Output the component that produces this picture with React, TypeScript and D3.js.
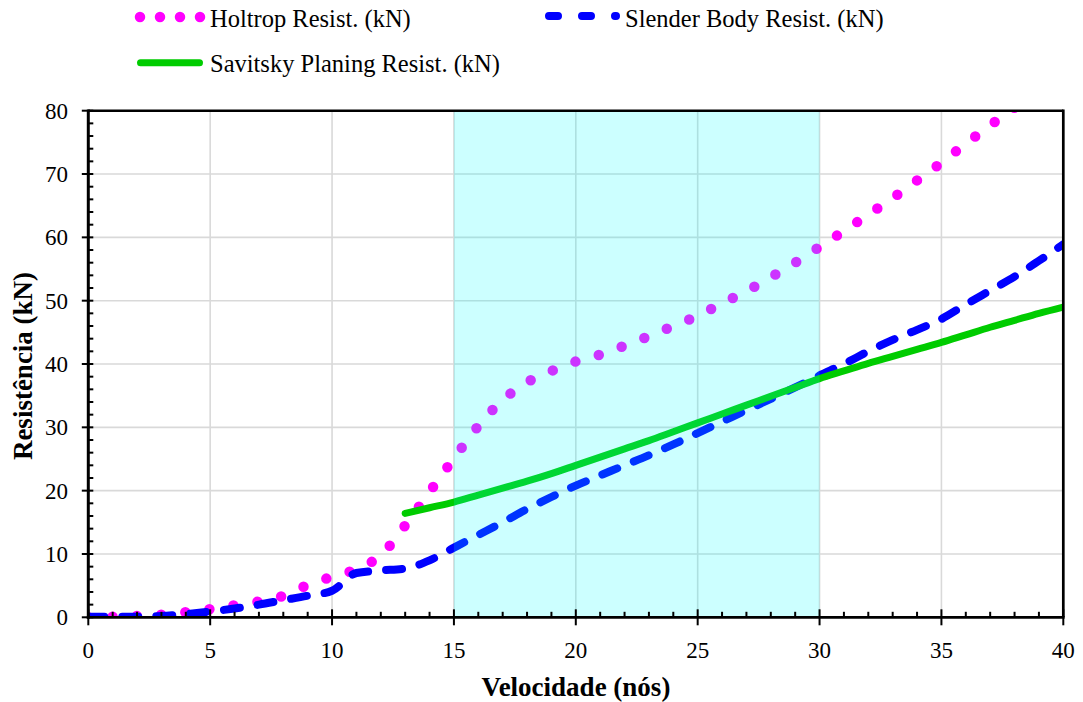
import React from "react";
import * as d3 from "d3";

const knots = d3.range(0, 41);
const holtrop = [0, 0.1, 0.2, 0.4, 0.8, 1.3, 1.9, 2.5, 3.4, 5.1, 6.4, 7.6, 9.8, 14.5, 19.8, 25.1, 30.2, 34.3, 37.1, 38.9, 40.4, 41.5, 42.9, 44.4, 46.0, 47.6, 49.6, 51.5, 53.7, 56.0, 58.5, 61.0, 63.6, 66.2, 69.0, 71.8, 74.8, 77.7, 80.5, 83.5, 86.5];
const slender = [0.1, 0.1, 0.1, 0.2, 0.5, 0.9, 1.4, 2.0, 2.7, 3.4, 4.2, 7.0, 7.4, 7.7, 9.0, 11.0, 13.0, 15.0, 17.1, 19.0, 20.8, 22.4, 24.0, 25.6, 27.3, 29.1, 30.9, 32.7, 34.5, 36.3, 38.2, 40.0, 42.0, 43.8, 45.4, 47.1, 49.4, 51.6, 53.8, 56.3, 58.9];
const savitskyKnots = d3.range(13, 41);
const savitsky = [16.4, 17.3, 18.2, 19.3, 20.4, 21.5, 22.7, 24.0, 25.3, 26.6, 27.9, 29.3, 30.7, 32.1, 33.5, 34.9, 36.3, 37.7, 38.9, 40.1, 41.2, 42.3, 43.4, 44.6, 45.8, 46.9, 48.0, 49.0];
const xTicks = [0, 5, 10, 15, 20, 25, 30, 35, 40];
const yTicks = [0, 10, 20, 30, 40, 50, 60, 70, 80];
const band = [15, 30];
const labels = {
  holtrop: "Holtrop Resist. (kN)",
  slender: "Slender Body Resist. (kN)",
  savitsky: "Savitsky Planing Resist. (kN)",
  x: "Velocidade (nós)",
  y: "Resistência (kN)",
};

const FONT = "Liberation Serif, Times New Roman, DejaVu Serif, serif";

export default function App() {
  const W = 1083, H = 702;
  const L = 88.3, R = 1063.3, T = 110.7, B = 617.3;
  const x = d3.scaleLinear().domain([0, 40]).range([L, R]);
  const y = d3.scaleLinear().domain([0, 80]).range([B, T]);
  const line = d3.line<[number, number]>().x((d) => x(d[0])).y((d) => y(d[1])).curve(d3.curveMonotoneX);
  const hPath = line(knots.map((k, i) => [k, holtrop[i]]))!;
  const sPath = line(knots.map((k, i) => [k, slender[i]]))!;
  const gPath = line(savitskyKnots.map((k, i) => [k, savitsky[i]]))!;
  const minorY = d3.range(0, 81, 2).filter((v) => v % 10 !== 0);
  const minorX = d3.range(0, 41, 1).filter((v) => v % 5 !== 0);
  const grid = "#d9d9d9";
  const T_ = (p: any) => <text fontFamily={FONT} fill="#000" {...p} />;

  return (
    <svg width={W} height={H} style={{ position: "absolute", left: 0, top: 0 }}>
      <defs>
        <clipPath id="plotclip">
          <rect x={L} y={T} width={R - L} height={B - T} />
        </clipPath>
      </defs>
      <rect x={0} y={0} width={W} height={H} fill="#fff" />
      {xTicks.filter((v) => v > 0 && v < 40).map((v) => (
        <line key={"gx" + v} x1={x(v)} x2={x(v)} y1={T} y2={B} stroke={grid} strokeWidth={1.6} />
      ))}
      {yTicks.filter((v) => v > 0 && v < 80).map((v) => (
        <line key={"gy" + v} x1={L} x2={R} y1={y(v)} y2={y(v)} stroke={grid} strokeWidth={1.6} />
      ))}
      <g clipPath="url(#plotclip)">
        <path d={hPath} fill="none" stroke="#ff00ff" strokeWidth={10.5} strokeLinecap="round" strokeDasharray="0 24.3" />
        <path d={sPath} fill="none" stroke="#0000ff" strokeWidth={8} strokeLinecap="round" strokeLinejoin="round" strokeDasharray="16 18" />
        <path d={gPath} fill="none" stroke="#00cc00" strokeWidth={7} strokeLinecap="round" strokeLinejoin="round" />
      </g>
      <rect x={x(band[0])} y={T} width={x(band[1]) - x(band[0])} height={B - T} fill="#00ffff" fillOpacity={0.2} />
      <line x1={L} x2={R} y1={T} y2={T} stroke="#000" strokeWidth={2.4} />
      <line x1={R} x2={R} y1={T - 1.2} y2={B} stroke="#000" strokeWidth={2.7} />
      <line x1={L} x2={L} y1={T - 1.2} y2={B + 1.4} stroke="#000" strokeWidth={3} />
      <line x1={L - 1.5} x2={R + 1.3} y1={B} y2={B} stroke="#000" strokeWidth={2.7} />
      {yTicks.map((v) => (
        <line key={"ty" + v} x1={L - 6.5} x2={L + 5} y1={y(v)} y2={y(v)} stroke="#000" strokeWidth={2} />
      ))}
      {minorY.map((v) => (
        <line key={"my" + v} x1={L} x2={L + 5} y1={y(v)} y2={y(v)} stroke="#000" strokeWidth={2} />
      ))}
      {xTicks.map((v) => (
        <line key={"tx" + v} x1={x(v)} x2={x(v)} y1={B - 8} y2={B + 8} stroke="#000" strokeWidth={2} />
      ))}
      {minorX.map((v) => (
        <line key={"mx" + v} x1={x(v)} x2={x(v)} y1={B - 5.5} y2={B} stroke="#000" strokeWidth={2} />
      ))}
      {yTicks.map((v) => (
        <T_ key={"ly" + v} x={68} y={y(v) + 8} textAnchor="end" fontSize={23}>{v}</T_>
      ))}
      {xTicks.map((v) => (
        <T_ key={"lx" + v} x={x(v)} y={658} textAnchor="middle" fontSize={23}>{v}</T_>
      ))}
      <T_ x={576} y={696} textAnchor="middle" fontSize={27} fontWeight="bold">{labels.x}</T_>
      <T_ transform="translate(32,366) rotate(-90)" textAnchor="middle" fontSize={27} fontWeight="bold">{labels.y}</T_>
      <path d="M140,17 L200.5,17" stroke="#ff00ff" strokeWidth={10.5} strokeLinecap="round" strokeDasharray="0 20" fill="none" />
      <T_ x={210} y={26.5} fontSize={24.5}>{labels.holtrop}</T_>
      <path d="M549,16 L616,16" stroke="#0000ff" strokeWidth={8} strokeLinecap="round" strokeDasharray="9 24" fill="none" />
      <T_ x={625} y={26.5} fontSize={24.5}>{labels.slender}</T_>
      <path d="M140.5,62.7 L199.5,62.7" stroke="#00cc00" strokeWidth={7} strokeLinecap="round" fill="none" />
      <T_ x={210} y={71.7} fontSize={24.5}>{labels.savitsky}</T_>
    </svg>
  );
}
